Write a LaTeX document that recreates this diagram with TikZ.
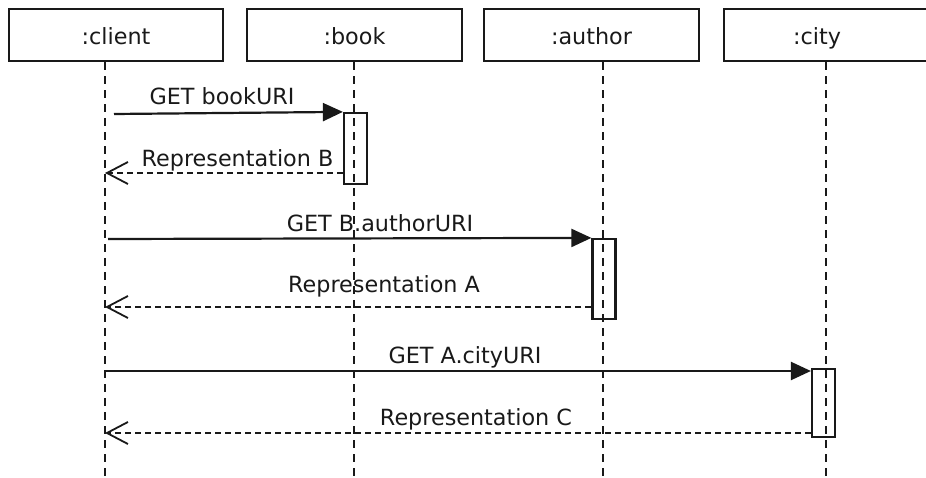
\documentclass[tikz,border=0pt]{standalone}
\usepackage{fontspec}
\setmainfont{DejaVu Sans}
\usetikzlibrary{arrows.meta}

\begin{document}
\begin{tikzpicture}[x=1pt, y=-1pt,
		head/.style={rectangle, draw=black!90, line width=2.2pt, minimum width=215pt, minimum height=52pt, inner sep=0pt, text height=21pt, text depth=2pt, text=black!90, font=\fontsize{22.3}{26}\selectfont},
		act/.style={rectangle, draw=black!90, line width=2.2pt, minimum width=23pt, inner sep=0pt},
		life/.style={draw=black!90, line width=2.2pt, dash pattern=on 8pt off 6pt},
		call/.style={draw=black!90, line width=2.2pt, -{Triangle[length=20pt, width=18pt]}},
		reply/.style={draw=black!90, line width=1.8pt, dash pattern=on 6pt off 4pt, -{Straight Barb[length=21pt, width=22pt, line width=1.8pt]}},
		msg/.style={anchor=base, inner sep=0pt, text=black!90, font=\fontsize{22.3}{26}\selectfont}]
		\useasboundingbox (0,0) rectangle (926,478);
		\node[head, minimum width=214pt] (client) at (116,35) {:client};
		\node[head] (book) at (354.5,35) {:book};
		\node[head] (author) at (591.5,35) {:author};
		\node[head, anchor=west] (city) at (723,35) {\makebox[186pt]{:city}\hspace*{29pt}};
		\coordinate (cl) at (105,478);
		\coordinate (bl) at (354,478);
		\coordinate (al) at (603,478);
		\coordinate (tl) at (826,478);
		
		\path (client.south -| cl) edge[life] (cl);
		\path (book.south -| bl) edge[life] (bl);
		\path (author.south -| al) edge[life] (al);
		\path (city.south -| tl) edge[life] (tl);
		
		\node[act, minimum height=71pt] (a1) at (355.5,148.5) {};
		\node[act, minimum height=80pt] (a2) at (604,279) {};
		\node[act, minimum height=68pt] (a3) at (823.5,403) {};
		
		\coordinate (m1) at (114,114);
		\coordinate (m2) at (108,239);
		\coordinate (m3) at (105,371);
		\coordinate (r1) at (105,173);
		\coordinate (r2) at (105,307);
		\coordinate (r3) at (105,433);
		
		\path (m1) edge[call] (a1.north west);
		\path (a1.west |- r1) edge[reply] (r1);
		\path (m2) edge[call] (a2.north west);
		\path (a2.west |- r2) edge[reply] (r2);
		\path (m3) edge[call] (a3.west |- m3);
		\path (a3.west |- r3) edge[reply] (r3);
		
		\node[msg] (t1) at (222,105) {GET bookURI};
		\node[msg] (t2) at (237.5,167) {Representation B};
		\node[msg] (t3) at (380,232) {GET B.authorURI};
		\node[msg] (t4) at (384,292) {Representation A};
		\node[msg] (t5) at (465,363) {GET A.cityURI};
		\node[msg] (t6) at (476,425) {Representation C};
	\end{tikzpicture}
\end{document}
